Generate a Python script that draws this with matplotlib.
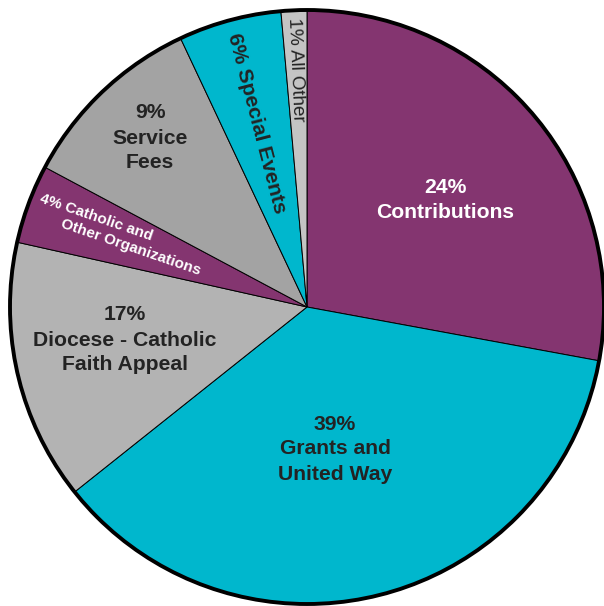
import matplotlib
matplotlib.use("Agg")
import matplotlib.pyplot as plt
from matplotlib.patches import Circle

plt.rcParams['font.family'] = ['Liberation Sans', 'DejaVu Sans']

categories = ["Contributions", "Grants and United Way", "Diocese - Catholic Faith Appeal",
              "Catholic and Other Organizations", "Service Fees", "Special Events", "All Other"]
values = [27.9, 36.4, 14.2, 4.3, 10.2, 5.6, 1.4]
labels = ["24%\nContributions", "39%\nGrants and\nUnited Way", "17%\nDiocese - Catholic\nFaith Appeal",
          "4% Catholic and|Other Organizations", "9%\nService\nFees", "6% Special Events", "1% All Other"]
colors = ["#843570", "#00B7CD", "#B3B3B3", "#843570", "#A3A3A3", "#00B7CD", "#C4C4C4"]

W, H = 604, 606
fig = plt.figure(figsize=(W / 100, H / 100), dpi=100)
ax = fig.add_axes([0, 0, 1, 1])
cx, cy, r = 307, H - 307, 297
ax.pie(values, colors=colors, startangle=90, counterclock=False,
       center=(cx, cy), radius=r,
       wedgeprops=dict(edgecolor="black", linewidth=0.7))
ax.add_patch(Circle((cx, cy), r, fill=False, edgecolor="black", linewidth=2.8, zorder=5))
ax.set_xlim(0, W)
ax.set_ylim(0, H)
ax.set_aspect("equal")
ax.axis("off")

dark = "#232323"


def put(txt, x, y, c, fs, rot=0, ls=1.4, weight="bold"):
    ax.text(x, H - y, txt, color=c, fontsize=fs, fontweight=weight,
            ha="center", va="center", rotation=rot, rotation_mode="anchor",
            linespacing=ls, zorder=6)


# positions in image pixel coords (x, y from top)
put(labels[0], 445, 200, "white", 15.2)
put(labels[1], 335, 449, dark, 15.2)
put(labels[2], 125, 340, dark, 15.2)
l1, l2 = labels[3].split("|")
put(l1, 96, 217, "white", 11, rot=-19)
put(l2, 131, 247, "white", 11, rot=-19)
put(labels[4], 150, 138, dark, 15.2)
put(labels[5], 257, 123, dark, 15.2, rot=-75.4)
put(labels[6], 296, 70, dark, 13.5, rot=-87.5, weight="normal")

fig.savefig("out.png", dpi=100, facecolor="white")
